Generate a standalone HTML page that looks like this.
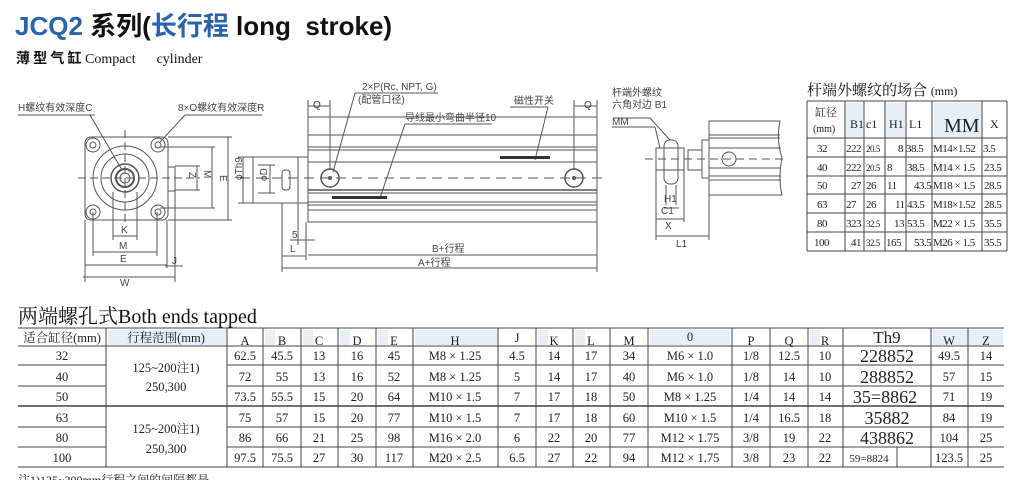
<!DOCTYPE html>
<html><head><meta charset="utf-8"><style>
html,body{margin:0;padding:0;background:#fff;}
svg{display:block}
.s{font-family:"Liberation Serif","Noto Serif CJK SC",serif;}
.a{font-family:"Liberation Sans","Noto Sans CJK SC",sans-serif;}
</style></head><body>
<svg width="1024" height="480" viewBox="0 0 1024 480" xmlns="http://www.w3.org/2000/svg">
<!-- title -->
<text x="15" y="35" class="a" font-size="26" font-weight="bold" xml:space="preserve" style="white-space:pre"><tspan fill="#2a63a8">JCQ2</tspan><tspan fill="#111"> 系列(</tspan><tspan fill="#2a63a8">长行程</tspan><tspan fill="#111"> long  stroke)</tspan></text>
<text x="16" y="63" class="s" font-size="14" fill="#111" xml:space="preserve" style="white-space:pre"><tspan font-weight="bold" font-family="Noto Sans CJK SC,sans-serif">薄 型 气 缸</tspan> Compact      cylinder</text>

<g stroke="#555" fill="none" stroke-width="1">
<!-- front view -->
<line x1="18" y1="115" x2="95" y2="115"/><line x1="90" y1="115" x2="122" y2="170"/>
<line x1="185" y1="115" x2="262" y2="115"/><line x1="185" y1="115" x2="160" y2="142"/>
<rect x="85" y="137" width="83" height="83" rx="6"/>
<circle cx="93" cy="145" r="7"/><circle cx="93" cy="145" r="3"/>
<circle cx="158" cy="145" r="7"/><circle cx="158" cy="145" r="3"/>
<circle cx="93" cy="212" r="7"/><circle cx="93" cy="212" r="3"/>
<circle cx="158" cy="212" r="7"/><circle cx="158" cy="212" r="3"/>
<circle cx="125" cy="178" r="32"/><circle cx="125" cy="178" r="24"/>
<circle cx="125" cy="178" r="14" stroke-width="1.5"/><circle cx="125" cy="178" r="9" stroke-width="2"/><circle cx="125" cy="178" r="5"/>
<rect x="168" y="167" width="7" height="24"/>
<line x1="78" y1="178" x2="200" y2="178" stroke-dasharray="8,4"/>
<line x1="125" y1="130" x2="125" y2="226" stroke-dasharray="8,4"/>
<line x1="168" y1="137" x2="232" y2="137"/><line x1="168" y1="220" x2="232" y2="220"/><line x1="228" y1="137" x2="228" y2="220"/>
<line x1="160" y1="147" x2="215" y2="147"/><line x1="160" y1="208" x2="215" y2="208"/><line x1="212" y1="147" x2="212" y2="208"/>
<line x1="175" y1="166" x2="200" y2="166"/><line x1="175" y1="190" x2="200" y2="190"/><line x1="197" y1="166" x2="197" y2="190"/>
<line x1="113" y1="192" x2="113" y2="240"/><line x1="137" y1="192" x2="137" y2="240"/><line x1="113" y1="236" x2="137" y2="236"/>
<line x1="93" y1="212" x2="93" y2="256"/><line x1="157" y1="212" x2="157" y2="256"/><line x1="93" y1="252" x2="157" y2="252"/>
<line x1="85" y1="220" x2="85" y2="282"/><line x1="167" y1="220" x2="167" y2="268"/><line x1="85" y1="265" x2="167" y2="265"/>
<line x1="175" y1="191" x2="175" y2="282"/><line x1="83" y1="277" x2="175" y2="277"/>
<line x1="165" y1="266" x2="183" y2="266"/>
</g>
<g class="a" font-size="10" fill="#444">
<text x="18" y="111">H螺纹有效深度C</text><text x="178" y="111">8×O螺纹有效深度R</text>
<text x="121" y="233">K</text><text x="119" y="249">M</text><text x="120" y="262">E</text><text x="120" y="286">W</text><text x="172" y="264">J</text>
<text x="0" y="0" transform="translate(189,172) rotate(90)">Z</text>
<text x="0" y="0" transform="translate(204,170) rotate(90)">M</text>
<text x="0" y="0" transform="translate(220,175) rotate(90)">E</text>
</g>

<!-- side view -->
<g stroke="#555" fill="none" stroke-width="1">
<rect x="308" y="117" width="289" height="105"/>
<line x1="308" y1="135" x2="597" y2="135"/><line x1="308" y1="147" x2="597" y2="147"/>
<line x1="308" y1="150" x2="597" y2="150"/><line x1="308" y1="162" x2="597" y2="162"/>
<line x1="308" y1="190" x2="597" y2="190" stroke-width="1.5"/><line x1="308" y1="193" x2="597" y2="193"/>
<line x1="308" y1="202" x2="597" y2="202"/><line x1="308" y1="205" x2="597" y2="205"/><line x1="308" y1="210" x2="597" y2="210"/>
<rect x="298" y="157" width="10" height="46"/>
<rect x="253" y="157" width="45" height="46"/>
<rect x="282" y="170" width="8" height="20" rx="3"/>
<circle cx="330" cy="178" r="9" stroke-width="1.5"/><circle cx="330" cy="178" r="1.5" fill="#555"/>
<circle cx="574" cy="178" r="9" stroke-width="1.5"/><circle cx="574" cy="178" r="1.5" fill="#555"/>
<line x1="240" y1="178" x2="605" y2="178" stroke-dasharray="10,6"/>
<line x1="238" y1="157" x2="253" y2="157"/><line x1="238" y1="203" x2="253" y2="203"/><line x1="243" y1="157" x2="243" y2="203"/>
<line x1="258" y1="165" x2="275" y2="165"/><line x1="258" y1="193" x2="275" y2="193"/><line x1="270" y1="165" x2="270" y2="193"/>
<line x1="308" y1="100" x2="308" y2="117"/><line x1="330" y1="100" x2="330" y2="170"/><line x1="308" y1="106" x2="330" y2="106"/>
<line x1="574" y1="100" x2="574" y2="170"/><line x1="597" y1="100" x2="597" y2="117"/><line x1="574" y1="106" x2="597" y2="106"/>
<line x1="438" y1="93" x2="355" y2="93"/><line x1="355" y1="93" x2="333" y2="172"/>
<line x1="492" y1="124" x2="405" y2="124"/><line x1="405" y1="124" x2="380" y2="198"/>
<line x1="548" y1="107" x2="510" y2="107"/><line x1="548" y1="107" x2="535" y2="160"/>
<line x1="282" y1="203" x2="282" y2="272"/><line x1="298" y1="203" x2="298" y2="245"/><line x1="306" y1="222" x2="306" y2="260"/>
<line x1="290" y1="240" x2="315" y2="240"/>
<line x1="282" y1="256" x2="306" y2="256"/><line x1="308" y1="255" x2="597" y2="255"/>
<line x1="597" y1="222" x2="597" y2="272"/>
<line x1="282" y1="268" x2="597" y2="268"/>
</g>
<g fill="#333"><rect x="332" y="196" width="55" height="3"/><rect x="500" y="156" width="50" height="3"/></g>
<g class="a" font-size="10" fill="#444">
<text x="362" y="90">2×P(Rc, NPT, G)</text><text x="358" y="103">(配管口径)</text>
<text x="405" y="121">导线最小弯曲半径10</text><text x="514" y="104">磁性开关</text>
<text x="313" y="108">Q</text><text x="584" y="108">Q</text>
<text x="292" y="238">5</text><text x="290" y="252">L</text>
<text x="432" y="252">B+行程</text><text x="418" y="266">A+行程</text>
<text transform="translate(242,172) rotate(-90)" x="-8" y="0">ϕTh9</text>
<text transform="translate(267,176) rotate(-90)" x="-5" y="0">ϕD</text>
</g>

<!-- right view -->
<g stroke="#555" fill="none" stroke-width="1">
<path d="M709 121 H780 Q776 140 782 158 Q778 178 782 195 H709 Z"/>
<line x1="709" y1="135" x2="780" y2="135"/><line x1="709" y1="138" x2="780" y2="138"/><line x1="709" y1="148" x2="781" y2="148"/>
<line x1="709" y1="168" x2="781" y2="168"/><line x1="709" y1="176" x2="781" y2="176"/><line x1="709" y1="180" x2="781" y2="180"/>
<rect x="702" y="140" width="7" height="38"/>
<rect x="688" y="150" width="14" height="20"/>
<rect x="656" y="148" width="28" height="22"/>
<rect x="664" y="140" width="14" height="44" rx="6"/>
<circle cx="729" cy="159" r="7"/>
<line x1="645" y1="159" x2="788" y2="159" stroke-dasharray="8,5"/>
<line x1="613" y1="118" x2="650" y2="118"/><line x1="650" y1="118" x2="670" y2="140"/>
<line x1="612" y1="127" x2="655" y2="127"/><line x1="655" y1="127" x2="660" y2="148"/>
<line x1="666" y1="185" x2="666" y2="205"/><line x1="676" y1="185" x2="676" y2="205"/>
<line x1="656" y1="170" x2="656" y2="240"/><line x1="684" y1="170" x2="684" y2="222"/><line x1="709" y1="195" x2="709" y2="240"/>
<line x1="664" y1="208" x2="679" y2="208"/>
<line x1="656" y1="219" x2="684" y2="219"/><line x1="656" y1="236" x2="709" y2="236"/>
</g>
<g class="a" font-size="10" fill="#444">
<text x="612" y="96">杆端外螺纹</text><text x="612" y="108">六角对边 B1</text><text x="612" y="125">MM</text>
<text x="664" y="202">H1</text><text x="661" y="214">C1</text><text x="665" y="229">X</text><text x="676" y="247">L1</text>
</g>

<!-- top right table -->
<text x="807" y="95" class="s" font-size="15" fill="#111">杆端外螺纹的场合 <tspan font-size="12">  (mm)</tspan></text>
<g fill="#e6eff8"><rect x="846" y="103" width="17" height="34"/><rect x="886" y="103" width="19" height="34"/><rect x="934" y="103" width="47" height="34"/></g>
<g stroke="#444" stroke-width="1">
<line x1="807" y1="101" x2="1007" y2="101"/>
<line x1="807" y1="138" x2="1007" y2="138"/><line x1="807" y1="157" x2="1007" y2="157"/><line x1="807" y1="176" x2="1007" y2="176"/>
<line x1="807" y1="194" x2="1007" y2="194"/><line x1="807" y1="213" x2="1007" y2="213"/><line x1="807" y1="232" x2="1007" y2="232"/><line x1="807" y1="251" x2="1007" y2="251"/>
<line x1="807" y1="101" x2="807" y2="251"/><line x1="845" y1="101" x2="845" y2="251"/><line x1="864" y1="101" x2="864" y2="251"/>
<line x1="885" y1="101" x2="885" y2="251"/><line x1="906" y1="101" x2="906" y2="251"/><line x1="932" y1="101" x2="932" y2="251"/>
<line x1="982" y1="101" x2="982" y2="251"/><line x1="1007" y1="101" x2="1007" y2="251"/>
</g>
<g class="s" font-size="12" fill="#222">
<text x="815" y="116" font-size="11">缸径</text><text x="813" y="132" font-size="10">(mm)</text>
<text x="850" y="128">B1</text><text x="866" y="128">c1</text><text x="889" y="128">H1</text><text x="909" y="128">L1</text>
<text x="944" y="132" font-size="20">MM</text><text x="990" y="128">X</text>
</g>
<g class="s" font-size="11" fill="#222" letter-spacing="-0.5">
<text x="817" y="152">32</text><text x="846" y="152">222</text><text x="866" y="152" font-size="9">20.5</text><text x="898" y="152">8</text><text x="906" y="152">38.5</text><text x="933" y="152">M14×1.52</text><text x="983" y="152">3.5</text>
<text x="817" y="171">40</text><text x="846" y="171">222</text><text x="866" y="171" font-size="9">20.5</text><text x="887" y="171">8</text><text x="907" y="171">38.5</text><text x="933" y="171">M14 × 1.5</text><text x="984" y="171">23.5</text>
<text x="817" y="189">50</text><text x="851" y="189">27</text><text x="866" y="189">26</text><text x="887" y="189">11</text><text x="914" y="189">43.5</text><text x="933" y="189">M18 × 1.5</text><text x="984" y="189">28.5</text>
<text x="817" y="208">63</text><text x="846" y="208">27</text><text x="866" y="208">26</text><text x="895" y="208">11</text><text x="907" y="208">43.5</text><text x="933" y="208">M18×1.52</text><text x="984" y="208">28.5</text>
<text x="817" y="227">80</text><text x="846" y="227">323</text><text x="866" y="227" font-size="9">32.5</text><text x="894" y="227">13</text><text x="907" y="227">53.5</text><text x="933" y="227">M22 × 1.5</text><text x="984" y="227">35.5</text>
<text x="814" y="246">100</text><text x="851" y="246">41</text><text x="866" y="246" font-size="9">32.5</text><text x="886" y="246">165</text><text x="914" y="246">53.5</text><text x="933" y="246">M26 × 1.5</text><text x="984" y="246">35.5</text>
</g>

<!-- bottom table -->
<text x="18" y="323" class="s" font-size="20" fill="#111">两端螺孔式Both ends tapped</text>
<g fill="#e6eff8">
<rect x="108" y="330" width="118" height="15"/><rect x="265" y="330" width="10" height="15"/><rect x="303" y="330" width="10" height="15"/>
<rect x="340" y="330" width="10" height="15"/><rect x="378" y="330" width="10" height="15"/><rect x="415" y="330" width="82" height="15"/>
<rect x="538" y="330" width="10" height="15"/><rect x="575" y="330" width="10" height="15"/><rect x="650" y="330" width="80" height="15"/>
<rect x="810" y="330" width="10" height="15"/><rect x="933" y="330" width="70" height="15"/><rect x="970" y="330" width="25" height="15"/>
</g>
<g stroke="#444" stroke-width="1">
<line x1="18" y1="328" x2="1004" y2="328"/><line x1="18" y1="346" x2="1004" y2="346"/>
<line x1="18" y1="365" x2="106" y2="365"/><line x1="227" y1="365" x2="1004" y2="365"/>
<line x1="18" y1="386" x2="106" y2="386"/><line x1="227" y1="386" x2="1004" y2="386"/>
<line x1="18" y1="406" x2="1004" y2="406" stroke-width="1.5"/>
<line x1="18" y1="427" x2="106" y2="427"/><line x1="227" y1="427" x2="1004" y2="427"/>
<line x1="18" y1="447" x2="106" y2="447"/><line x1="227" y1="447" x2="1004" y2="447"/>
<line x1="18" y1="467" x2="1004" y2="467"/>
<line x1="106" y1="328" x2="106" y2="467"/><line x1="227" y1="328" x2="227" y2="467"/><line x1="263" y1="328" x2="263" y2="467"/>
<line x1="301" y1="328" x2="301" y2="467"/><line x1="338" y1="328" x2="338" y2="467"/><line x1="376" y1="328" x2="376" y2="467"/>
<line x1="413" y1="328" x2="413" y2="467"/><line x1="498" y1="328" x2="498" y2="467"/><line x1="536" y1="328" x2="536" y2="467"/>
<line x1="573" y1="328" x2="573" y2="467"/><line x1="610" y1="328" x2="610" y2="467"/><line x1="648" y1="328" x2="648" y2="467"/>
<line x1="732" y1="328" x2="732" y2="467"/><line x1="770" y1="328" x2="770" y2="467"/><line x1="808" y1="328" x2="808" y2="467"/>
<line x1="843" y1="328" x2="843" y2="467"/><line x1="931" y1="328" x2="931" y2="467"/><line x1="968" y1="328" x2="968" y2="467"/>
<line x1="897" y1="447" x2="897" y2="467"/>
</g>
<g class="s" font-size="12.5" fill="#222" text-anchor="middle">
<text x="62" y="342">适合缸径(mm)</text><text x="166" y="342">行程范围(mm)</text>
<text x="245" y="345">A</text><text x="282" y="345">B</text><text x="319" y="345">C</text><text x="357" y="345">D</text><text x="394" y="345">E</text>
<text x="455" y="345">H</text><text x="517" y="342">J</text><text x="554" y="345">K</text><text x="591" y="345">L</text><text x="629" y="345">M</text>
<text x="690" y="341">0</text><text x="751" y="345">P</text><text x="789" y="345">Q</text><text x="825" y="345">R</text>
<text x="887" y="343" font-size="17">Th9</text><text x="949" y="345">W</text><text x="986" y="345">Z</text>
<text x="166" y="372">125~200注1)</text><text x="166" y="391">250,300</text>
<text x="166" y="433">125~200注1)</text><text x="166" y="453">250,300</text>
</g>
<g class="s" font-size="12.5" fill="#222" text-anchor="middle">
<g transform="translate(0,360)">
<text x="62">32</text><text x="245">62.5</text><text x="282">45.5</text><text x="319">13</text><text x="357">16</text><text x="394">45</text><text x="455">M8 × 1.25</text><text x="517">4.5</text><text x="554">14</text><text x="591">17</text><text x="629">34</text><text x="690">M6 × 1.0</text><text x="751">1/8</text><text x="789">12.5</text><text x="825">10</text><text x="887" font-size="18" y="2">228852</text><text x="949">49.5</text><text x="986">14</text>
</g>
<g transform="translate(0,381)">
<text x="62">40</text><text x="245">72</text><text x="282">55</text><text x="319">13</text><text x="357">16</text><text x="394">52</text><text x="455">M8 × 1.25</text><text x="517">5</text><text x="554">14</text><text x="591">17</text><text x="629">40</text><text x="690">M6 × 1.0</text><text x="751">1/8</text><text x="789">14</text><text x="825">10</text><text x="887" font-size="18" y="2">288852</text><text x="949">57</text><text x="986">15</text>
</g>
<g transform="translate(0,401)">
<text x="62">50</text><text x="245">73.5</text><text x="282">55.5</text><text x="319">15</text><text x="357">20</text><text x="394">64</text><text x="455">M10 × 1.5</text><text x="517">7</text><text x="554">17</text><text x="591">18</text><text x="629">50</text><text x="690">M8 × 1.25</text><text x="751">1/4</text><text x="789">14</text><text x="825">14</text><text x="885" font-size="18" y="2">35=8862</text><text x="949">71</text><text x="986">19</text>
</g>
<g transform="translate(0,422)">
<text x="62">63</text><text x="245">75</text><text x="282">57</text><text x="319">15</text><text x="357">20</text><text x="394">77</text><text x="455">M10 × 1.5</text><text x="517">7</text><text x="554">17</text><text x="591">18</text><text x="629">60</text><text x="690">M10 × 1.5</text><text x="751">1/4</text><text x="789">16.5</text><text x="825">18</text><text x="887" font-size="18" y="2">35882</text><text x="949">84</text><text x="986">19</text>
</g>
<g transform="translate(0,442)">
<text x="62">80</text><text x="245">86</text><text x="282">66</text><text x="319">21</text><text x="357">25</text><text x="394">98</text><text x="455">M16 × 2.0</text><text x="517">6</text><text x="554">22</text><text x="591">20</text><text x="629">77</text><text x="690">M12 × 1.75</text><text x="751">3/8</text><text x="789">19</text><text x="825">22</text><text x="887" font-size="18" y="2">438862</text><text x="949">104</text><text x="986">25</text>
</g>
<g transform="translate(0,462)">
<text x="62">100</text><text x="245">97.5</text><text x="282">75.5</text><text x="319">27</text><text x="357">30</text><text x="394">117</text><text x="455">M20 × 2.5</text><text x="517">6.5</text><text x="554">27</text><text x="591">22</text><text x="629">94</text><text x="690">M12 × 1.75</text><text x="751">3/8</text><text x="789">23</text><text x="825">22</text><text x="869" font-size="11">59=8824</text><text x="949">123.5</text><text x="986">25</text>
</g>
</g>
<text x="18" y="484" class="s" font-size="12" fill="#222">注1)125~200mm行程之间的间隔都是</text>
</svg>
</body></html>
